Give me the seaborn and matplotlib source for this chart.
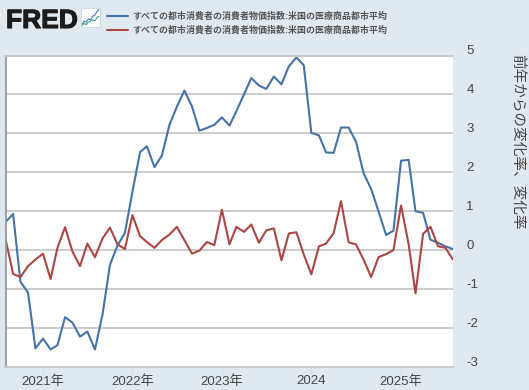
import pandas as pd
import matplotlib
matplotlib.use("Agg")
from matplotlib import pyplot as plt
from matplotlib import patheffects as pe
from matplotlib.transforms import ScaledTranslation
import seaborn as sns

months = pd.date_range("2020-08-01", "2025-08-01", freq="MS")
blue_vals = [0.72, 0.93, -0.81, -1.09, -2.52, -2.27, -2.55, -2.44, -1.72, -1.86, -2.22,
             -2.09, -2.55, -1.65, -0.38, 0.12, 0.44, 1.50, 2.52, 2.67, 2.13, 2.43, 3.22,
             3.68, 4.10, 3.69, 3.07, 3.14, 3.22, 3.41, 3.20, 3.57, 4.00, 4.42, 4.23, 4.14,
             4.46, 4.26, 4.72, 4.95, 4.75, 3.01, 2.95, 2.51, 2.50, 3.15, 3.15, 2.79, 1.98,
             1.57, 1.00, 0.39, 0.50, 2.30, 2.32, 1.00, 0.96, 0.27, 0.19, 0.10, 0.03]
red_vals = [0.29, -0.61, -0.69, -0.41, -0.24, -0.09, -0.74, 0.06, 0.59, -0.03, -0.41,
            0.17, -0.18, 0.30, 0.58, 0.15, 0.03, 0.90, 0.36, 0.21, 0.06, 0.26, 0.40, 0.60,
            0.26, -0.09, -0.01, 0.21, 0.13, 1.04, 0.15, 0.60, 0.47, 0.66, 0.19, 0.51, 0.56,
            -0.26, 0.43, 0.46, -0.11, -0.62, 0.10, 0.17, 0.44, 1.26, 0.20, 0.15, -0.24,
            -0.69, -0.18, -0.10, 0.00, 1.15, 0.15, -1.11, 0.42, 0.60, 0.10, 0.06, -0.24]
series_name = "すべての都市消費者の消費者物価指数:米国の医療商品都市平均"
year_ticks = ["2021-01-01", "2022-01-01", "2023-01-01", "2024-01-01", "2025-01-01"]
year_labels = ["2021年", "2022年", "2023年", "2024", "2025年"]
y_ticks = [-3, -2, -1, 0, 1, 2, 3, 4, 5]
y_title = "前年からの変化率、変化率"
logo_a = [2, 5, 4, 7, 6, 9, 10, 13, 15]
logo_b = [1, 3, 2, 4, 5, 6, 5, 8, 9]

W, H = 529, 390
BG = "#e1e9f0"
BLUE = "#4572a7"
RED = "#aa4643"
GRID = "#c8c8c8"
TXT = "#444444"

sns.set_theme(style="white")
plt.rcParams["font.family"] = ["Liberation Sans", "Noto Sans CJK JP", "DejaVu Sans"]

fig = plt.figure(figsize=(W / 100, H / 100), dpi=100, facecolor=BG)
ax = fig.add_axes([5.5 / W, 1 - 367 / H, (453 - 5.5) / W, (367 - 55.5) / H], facecolor="white")

df = pd.DataFrame({"date": months, "blue": blue_vals, "red": red_vals})
sns.lineplot(data=df, x="date", y="blue", color=BLUE, lw=1.5, label=series_name, ax=ax)
sns.lineplot(data=df, x="date", y="red", color=RED, lw=1.5, label=series_name, ax=ax)

ax.set_xlim(months[0], months[-1])
ax.set_ylim(-3, 5)
ax.set_xlabel("")
ax.set_ylabel("")
ax.grid(axis="y", color=GRID, lw=1.3)
ax.set_axisbelow(True)
ax.spines["right"].set_visible(False)
ax.spines["top"].set_color(GRID)
ax.spines["top"].set_linewidth(1.3)
ax.spines["bottom"].set_color(GRID)
ax.spines["bottom"].set_linewidth(1.3)
ax.spines["left"].set_color("#8f949a")
ax.spines["left"].set_linewidth(1.2)

ax.set_xticks(pd.to_datetime(year_ticks))
ax.set_xticklabels(year_labels, fontsize=9.5, color=TXT)
ax.tick_params(axis="x", length=5, width=1, color="#d3dde6", pad=1, bottom=True)

ax.yaxis.tick_right()
ax.set_yticks(y_ticks)
ax.set_yticklabels([str(v) for v in y_ticks], fontsize=9.5, color=TXT, va="baseline")
ax.tick_params(axis="y", length=0, pad=9.5)
# FRED puts the numbers just above their gridline
for lab in ax.get_yticklabels():
    lab.set_transform(lab.get_transform() + ScaledTranslation(0, 1.5 / 100, fig.dpi_scale_trans))

fig.text(517 / W, 1 - 141.5 / H, y_title, rotation=270, ha="center", va="center",
         fontsize=10.55, color=TXT)

leg = ax.legend(loc="upper left", bbox_to_anchor=(106.5 / W, 1 - 12 / H),
                bbox_transform=fig.transFigure, frameon=False, handlelength=2.45,
                handletextpad=0.4, labelspacing=0.45, borderpad=0, borderaxespad=0,
                prop={"size": 6.45, "weight": "bold"})
for t in leg.get_texts():
    t.set_color("#555555")

logo = fig.text(6 / W, 1 - 28 / H, "FRED", fontsize=19, fontweight="bold", color="#1c1c1c",
                ha="left", va="baseline")
logo.set_path_effects([pe.withStroke(linewidth=0.8, foreground="#1c1c1c")])

# little chart icon next to the logo
icon = fig.add_axes([81 / W, 1 - 27 / H, 19 / W, 19 / H], facecolor="white")
icon.plot(range(len(logo_a)), logo_a, color="#3f7fc1", lw=0.8)
icon.plot(range(len(logo_b)), logo_b, color="#3aa37c", lw=0.8)
icon.set_xticks([])
icon.set_yticks([])
icon.set_ylim(0, 16)
for s in icon.spines.values():
    s.set_color("#cfd6dc")
    s.set_linewidth(0.6)

plt.savefig("out.png", dpi=100, facecolor=BG)
